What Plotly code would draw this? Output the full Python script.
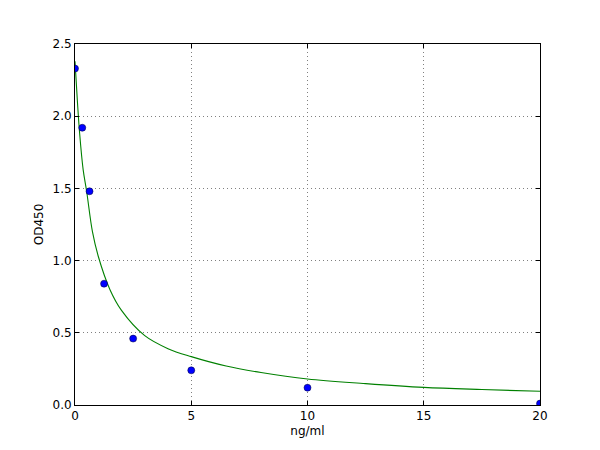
import plotly.graph_objs as go

# standard points
conc = [0, 0.3125, 0.625, 1.25, 2.5, 5, 10, 20]
od450 = [2.33, 1.92, 1.48, 0.84, 0.46, 0.24, 0.12, 0.01]

# fitted curve
curve_x = [0, 0.1, 0.2, 0.35, 0.5, 0.75, 1.0, 1.5, 2.0, 3.0, 4.0, 5.0,
           6.5, 8.0, 10.0, 12.5, 15.0, 17.5, 20.0]
curve_y = [2.38, 2.11, 1.88, 1.63, 1.48, 1.20, 1.03, 0.80, 0.655, 0.48, 0.39, 0.335,
           0.27, 0.225, 0.18, 0.148, 0.122, 0.107, 0.095]

x_ticks = [0, 5, 10, 15, 20]
y_ticks = [0.0, 0.5, 1.0, 1.5, 2.0, 2.5]

traces = [
    go.Scatter(x=curve_x, y=curve_y, mode='lines', line=dict(color='#008000', width=1.1, shape='spline'),
               showlegend=False),
    go.Scatter(x=conc, y=od450, mode='markers',
               marker=dict(color='#0000ff', size=7, line=dict(color='#000033', width=0.5)),
               showlegend=False),
]

fig = go.Figure(data=traces, layout=go.Layout(width=600, height=450))

axis_style = dict(showline=True, linecolor='black', linewidth=1, mirror='ticks', ticks='inside',
                  ticklen=4, tickcolor='black', showgrid=True, gridcolor='#808080', griddash='1px,3px',
                  gridwidth=1, zeroline=False, tickfont=dict(family='DejaVu Sans', size=12, color='black'))

# page body adds ~8px offset, so margins are shifted to keep the axes where the original has them
fig.update_layout(
    margin=dict(l=67, r=68, t=36, b=53),
    paper_bgcolor='white', plot_bgcolor='white',
    xaxis=dict(range=[0, 20], tickvals=x_ticks, ticktext=[str(v) for v in x_ticks],
               title=dict(text='ng/ml', font=dict(family='DejaVu Sans', size=12, color='black'), standoff=4),
               **axis_style),
    yaxis=dict(range=[0, 2.5], tickvals=y_ticks, ticktext=['%.1f' % v for v in y_ticks],
               title=dict(text='OD450', font=dict(family='DejaVu Sans', size=12, color='black'), standoff=6),
               **axis_style),
)

fig.write_html("out.html")
